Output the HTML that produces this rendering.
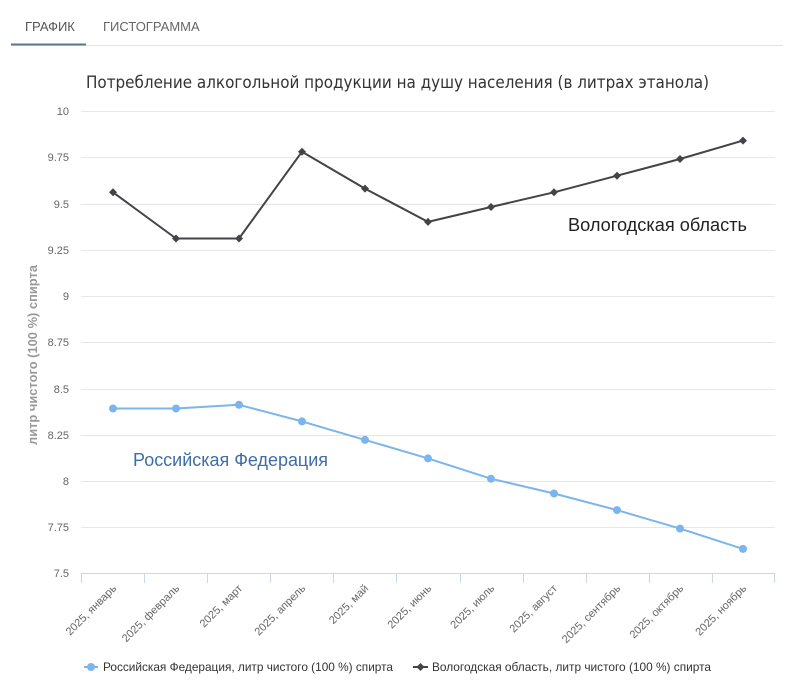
<!DOCTYPE html>
<html><head><meta charset="utf-8"><style>
html,body{margin:0;padding:0;background:#fff;}
body{width:790px;height:695px;overflow:hidden;position:relative;font-family:"Liberation Sans","DejaVu Sans",sans-serif;}
svg{position:absolute;left:0;top:0;}
</style></head><body>
<svg width="790" height="695" viewBox="0 0 790 695" xmlns="http://www.w3.org/2000/svg" font-family="Liberation Sans, DejaVu Sans, sans-serif">
<!-- tabs -->
<text x="25" y="31" font-size="13" fill="#555">ГРАФИК</text>
<text x="103" y="31" font-size="13" fill="#666">ГИСТОГРАММА</text>
<line x1="11" y1="45.5" x2="783" y2="45.5" stroke="#e3e3e3" stroke-width="1"/>
<line x1="11" y1="44.5" x2="86" y2="44.5" stroke="#5a7794" stroke-width="2"/>
<!-- title -->
<text x="86" y="88" font-size="17" fill="#333" font-family="DejaVu Sans, sans-serif" textLength="623" lengthAdjust="spacingAndGlyphs">Потребление алкогольной продукции на душу населения (в литрах этанола)</text>
<!-- grid -->
<g stroke="#e6e6e6" stroke-width="1">
<line x1="81" y1="111.5" x2="775" y2="111.5"/>
<line x1="81" y1="157.5" x2="775" y2="157.5"/>
<line x1="81" y1="204.5" x2="775" y2="204.5"/>
<line x1="81" y1="250.5" x2="775" y2="250.5"/>
<line x1="81" y1="296.5" x2="775" y2="296.5"/>
<line x1="81" y1="342.5" x2="775" y2="342.5"/>
<line x1="81" y1="389.5" x2="775" y2="389.5"/>
<line x1="81" y1="435.5" x2="775" y2="435.5"/>
<line x1="81" y1="481.5" x2="775" y2="481.5"/>
<line x1="81" y1="527.5" x2="775" y2="527.5"/>
</g>
<!-- y labels -->
<g font-size="11" fill="#666" text-anchor="end">
<text x="69" y="115">10</text>
<text x="69" y="161">9.75</text>
<text x="69" y="208">9.5</text>
<text x="69" y="254">9.25</text>
<text x="69" y="300">9</text>
<text x="69" y="346">8.75</text>
<text x="69" y="393">8.5</text>
<text x="69" y="439">8.25</text>
<text x="69" y="485">8</text>
<text x="69" y="531">7.75</text>
<text x="69" y="577">7.5</text>
</g>
<text transform="translate(37,355) rotate(-90)" font-size="12.5" font-weight="bold" fill="#999" text-anchor="middle" textLength="180" lengthAdjust="spacingAndGlyphs">литр чистого (100 %) спирта</text>
<!-- x axis -->
<line x1="81" y1="573.5" x2="775" y2="573.5" stroke="#ccd6eb" stroke-width="1"/>
<g stroke="#ccd6eb" stroke-width="1">
<line x1="81.5" y1="573" x2="81.5" y2="583"/>
<line x1="144.5" y1="573" x2="144.5" y2="583"/>
<line x1="207.5" y1="573" x2="207.5" y2="583"/>
<line x1="270.5" y1="573" x2="270.5" y2="583"/>
<line x1="333.5" y1="573" x2="333.5" y2="583"/>
<line x1="396.5" y1="573" x2="396.5" y2="583"/>
<line x1="460.5" y1="573" x2="460.5" y2="583"/>
<line x1="523.5" y1="573" x2="523.5" y2="583"/>
<line x1="586.5" y1="573" x2="586.5" y2="583"/>
<line x1="649.5" y1="573" x2="649.5" y2="583"/>
<line x1="712.5" y1="573" x2="712.5" y2="583"/>
<line x1="774.5" y1="573" x2="774.5" y2="583"/>
</g>
<g font-size="11" fill="#666" text-anchor="end">
<text transform="translate(117,589) rotate(-45)">2025, январь</text>
<text transform="translate(180,589) rotate(-45)">2025, февраль</text>
<text transform="translate(243,589) rotate(-45)">2025, март</text>
<text transform="translate(306,589) rotate(-45)">2025, апрель</text>
<text transform="translate(369,589) rotate(-45)">2025, май</text>
<text transform="translate(432,589) rotate(-45)">2025, июнь</text>
<text transform="translate(495,589) rotate(-45)">2025, июль</text>
<text transform="translate(558,589) rotate(-45)">2025, август</text>
<text transform="translate(621,589) rotate(-45)">2025, сентябрь</text>
<text transform="translate(684,589) rotate(-45)">2025, октябрь</text>
<text transform="translate(747,589) rotate(-45)">2025, ноябрь</text>
</g>
<!-- Vologda series -->
<polyline fill="none" stroke="#434348" stroke-width="2" stroke-linejoin="round" points="113,192.3 176,238.5 239,238.5 302,151.7 365,188.6 428,221.9 491,207 554,192.3 617,175.7 680,159 743,140.6"/>
<g fill="#434348">
<path d="M113,188.3 L117,192.3 L113,196.3 L109,192.3Z"/>
<path d="M176,234.5 L180,238.5 L176,242.5 L172,238.5Z"/>
<path d="M239,234.5 L243,238.5 L239,242.5 L235,238.5Z"/>
<path d="M302,147.7 L306,151.7 L302,155.7 L298,151.7Z"/>
<path d="M365,184.6 L369,188.6 L365,192.6 L361,188.6Z"/>
<path d="M428,217.9 L432,221.9 L428,225.9 L424,221.9Z"/>
<path d="M491,203 L495,207 L491,211 L487,207Z"/>
<path d="M554,188.3 L558,192.3 L554,196.3 L550,192.3Z"/>
<path d="M617,171.7 L621,175.7 L617,179.7 L613,175.7Z"/>
<path d="M680,155 L684,159 L680,163 L676,159Z"/>
<path d="M743,136.6 L747,140.6 L743,144.6 L739,140.6Z"/>
</g>
<!-- RF series -->
<polyline fill="none" stroke="#7cb5ec" stroke-width="2" stroke-linejoin="round" points="113,408.5 176,408.5 239,404.8 302,421.4 365,439.9 428,458.4 491,478.7 554,493.5 617,510.1 680,528.6 743,548.9"/>
<g fill="#7cb5ec">
<circle cx="113" cy="408.5" r="4"/>
<circle cx="176" cy="408.5" r="4"/>
<circle cx="239" cy="404.8" r="4"/>
<circle cx="302" cy="421.4" r="4"/>
<circle cx="365" cy="439.9" r="4"/>
<circle cx="428" cy="458.4" r="4"/>
<circle cx="491" cy="478.7" r="4"/>
<circle cx="554" cy="493.5" r="4"/>
<circle cx="617" cy="510.1" r="4"/>
<circle cx="680" cy="528.6" r="4"/>
<circle cx="743" cy="548.9" r="4"/>
</g>
<!-- annotations -->
<text x="568" y="231" font-size="18" fill="#222" textLength="179" lengthAdjust="spacingAndGlyphs">Вологодская область</text>
<text x="133" y="466" font-size="18" fill="#3d6ea8" textLength="195" lengthAdjust="spacingAndGlyphs">Российская Федерация</text>
<!-- legend -->
<line x1="84" y1="667" x2="98" y2="667" stroke="#7cb5ec" stroke-width="2"/>
<circle cx="91" cy="667" r="4" fill="#7cb5ec"/>
<text x="103" y="671" font-size="12" fill="#333" textLength="290" lengthAdjust="spacingAndGlyphs">Российская Федерация, литр чистого (100 %) спирта</text>
<line x1="413" y1="667" x2="428" y2="667" stroke="#434348" stroke-width="2"/>
<path d="M420.5,663 L424.5,667 L420.5,671 L416.5,667Z" fill="#434348"/>
<text x="432" y="671" font-size="12" fill="#333" textLength="279" lengthAdjust="spacingAndGlyphs">Вологодская область, литр чистого (100 %) спирта</text>
</svg>
</body></html>
